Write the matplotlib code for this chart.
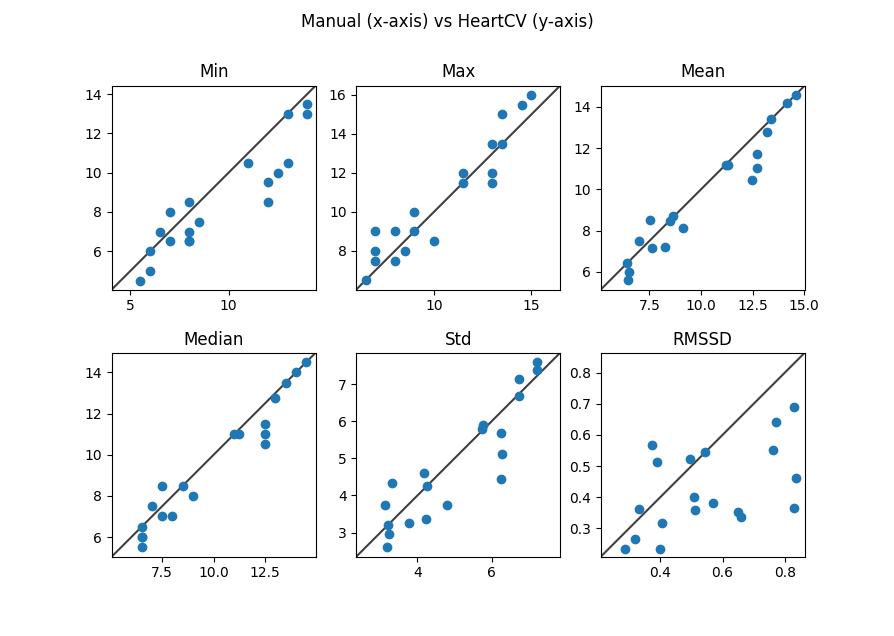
import matplotlib
matplotlib.use("Agg")
import matplotlib.pyplot as plt
import numpy as np

# Manual (x) vs HeartCV (y), one point per recording
min_manual = [5.5, 6, 6, 6.5, 7, 7, 8, 8, 8, 8, 8.5, 11, 12, 12, 12.5, 13, 13, 14, 14]
min_heartcv = [4.5, 5, 6, 7, 8, 6.5, 8.5, 7, 6.5, 6.5, 7.5, 10.5, 9.5, 8.5, 10, 10.5, 13, 13.5, 13]

max_manual = [6.5, 7, 7, 7, 8, 8, 8.5, 9, 9, 10, 11.5, 11.5, 13, 13, 13, 13.5, 13.5, 14.5, 15]
max_heartcv = [6.5, 9, 8, 7.5, 9, 7.5, 8, 10, 9, 8.5, 12, 11.5, 13.5, 12, 11.5, 15, 13.5, 15.5, 16]

mean_manual = [6.41, 6.53, 6.47, 7.01, 7.53, 7.65, 8.26, 8.49, 8.65, 9.14,
               11.19, 11.30, 12.47, 12.71, 12.71, 13.18, 13.39, 14.16, 14.59]
mean_heartcv = [6.42, 5.98, 5.60, 7.48, 8.50, 7.14, 7.19, 8.47, 8.71, 8.11,
                11.18, 11.20, 10.45, 11.69, 11.03, 12.76, 13.40, 14.16, 14.57]

median_manual = [6.5, 6.5, 6.5, 6.5, 7, 7.5, 7.5, 8, 8.5, 9, 11, 11.25, 12.5, 12.5, 12.5, 13, 13.5, 14, 14.5]
median_heartcv = [6.5, 6, 6, 5.5, 7.5, 8.5, 7, 7, 8.5, 8, 11, 11, 11.5, 11, 10.5, 12.75, 13.5, 14, 14.5]

std_manual = [3.12, 3.20, 3.22, 3.19, 3.32, 3.76, 4.17, 4.27, 4.24, 4.81,
              5.74, 5.77, 6.25, 6.27, 6.25, 6.74, 6.74, 7.22, 7.24]
std_heartcv = [3.74, 3.21, 2.95, 2.60, 4.33, 3.25, 4.60, 4.25, 3.36, 3.74,
               5.80, 5.90, 5.69, 5.12, 4.44, 7.14, 6.68, 7.39, 7.60]

rmssd_manual = [0.286, 0.318, 0.332, 0.373, 0.390, 0.400, 0.405, 0.496, 0.509, 0.512,
                0.543, 0.569, 0.649, 0.658, 0.762, 0.771, 0.828, 0.828, 0.836]
rmssd_heartcv = [0.235, 0.267, 0.362, 0.569, 0.512, 0.232, 0.317, 0.524, 0.401, 0.358,
                 0.546, 0.381, 0.352, 0.336, 0.552, 0.643, 0.690, 0.366, 0.461]

panels = [
    ("Min", min_manual, min_heartcv),
    ("Max", max_manual, max_heartcv),
    ("Mean", mean_manual, mean_heartcv),
    ("Median", median_manual, median_heartcv),
    ("Std", std_manual, std_heartcv),
    ("RMSSD", rmssd_manual, rmssd_heartcv),
]

fig, axs = plt.subplots(2, 3, figsize=(8.94, 6.36), dpi=100)

for ax, (name, x, y) in zip(axs.flat, panels):
    ax.scatter(x, y)
    lims = [
        np.min([ax.get_xlim(), ax.get_ylim()]),
        np.max([ax.get_xlim(), ax.get_ylim()]),
    ]
    # identity line
    ax.plot(lims, lims, "k-", alpha=0.75, zorder=0)
    ax.set_aspect("equal")
    ax.set_xlim(lims)
    ax.set_ylim(lims)
    ax.set_title(name)

fig.suptitle("Manual (x-axis) vs HeartCV (y-axis)")
plt.savefig("out.png", dpi=100)
plt.close()
